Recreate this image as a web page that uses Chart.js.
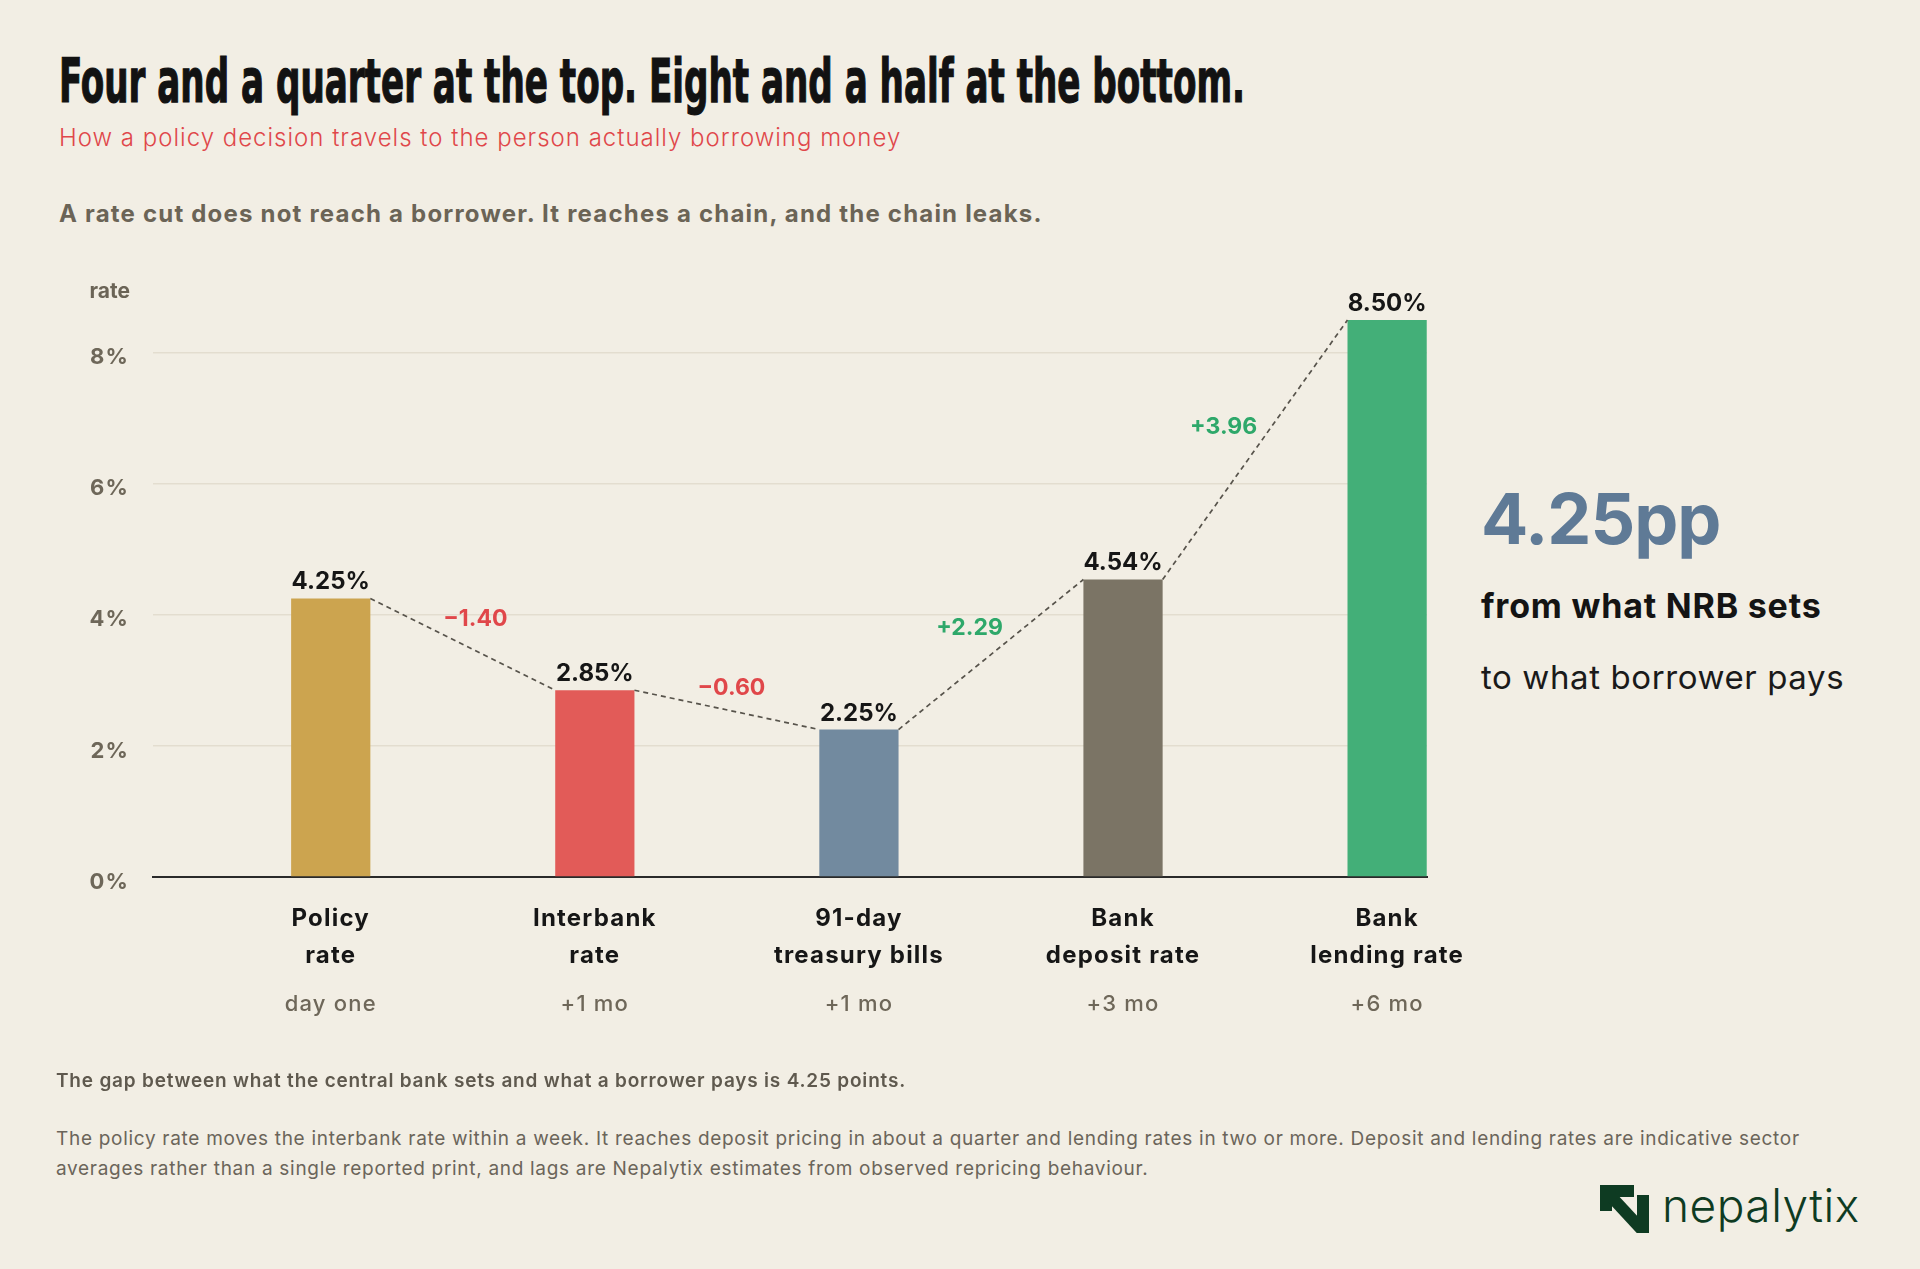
<!DOCTYPE html>
<html>
<head>
<meta charset="utf-8">
<title>Policy rate to lending rate</title>
<script src="https://cdn.jsdelivr.net/npm/chart.js@4.4.1/dist/chart.umd.min.js"></script>
<style>
  html, body { margin: 0; padding: 0; }
  body {
    width: 1920px; height: 1269px; position: relative; overflow: hidden;
    background: #f2eee4; font-family: Inter, "Noto Sans", sans-serif;
  }
  .abs { position: absolute; white-space: nowrap; line-height: 1; }
  #title {
    left: 59px; top: 51px; font-family: "Liberation Sans Narrow", "DejaVu Sans Condensed", sans-serif;
    font-weight: 700; font-size: 60px; color: #121212; transform-origin: 0 0;
    -webkit-text-stroke: 1.2px #121212;
  }
  #subtitle { left: 59px; top: 126px; font-size: 24px; font-weight: 300; color: #e0474a; letter-spacing: 1px; }
  #lede { left: 59px; top: 202px; font-size: 24px; font-weight: 700; color: #6b6456; letter-spacing: 1.2px; }
  #gap { left: 1481px; top: 484px; font-size: 70px; font-weight: 700; color: #5f7a96; letter-spacing: -1px; }
  #gapFrom { left: 1481px; top: 589px; font-size: 34px; font-weight: 700; color: #141414; letter-spacing: 0.8px; }
  #gapTo { left: 1481px; top: 661px; font-size: 33px; font-weight: 400; color: #1a1a1a; letter-spacing: 0.6px; }
  #note1 { left: 56px; top: 1071px; font-size: 19px; font-weight: 600; color: #5f594e; letter-spacing: 0.8px; }
  #note2 { left: 56px; top: 1124px; font-size: 19px; font-weight: 400; color: #6b655a; line-height: 30px; letter-spacing: 0.7px; }
  #logo { left: 1600px; top: 1182px; }
  #logo svg { position: absolute; left: 0; top: 3px; }
  #logo span { position: absolute; left: 62px; top: 0; font-size: 46px; font-weight: 300; color: #0e3b22; line-height: 1; letter-spacing: 0.5px; }
  #rateChart { position: absolute; left: 0; top: 250px; }
</style>
</head>
<body>
<div id="title" class="abs">Four and a quarter at the top. Eight and a half at the bottom.</div>
<div id="subtitle" class="abs">How a policy decision travels to the person actually borrowing money</div>
<div id="lede" class="abs">A rate cut does not reach a borrower. It reaches a chain, and the chain leaks.</div>

<canvas id="rateChart" width="1470" height="820"></canvas>

<div id="gap" class="abs"></div>
<div id="gapFrom" class="abs">from what NRB sets</div>
<div id="gapTo" class="abs">to what borrower pays</div>

<div id="note1" class="abs">The gap between what the central bank sets and what a borrower pays is 4.25 points.</div>
<div id="note2" class="abs">The policy rate moves the interbank rate within a week. It reaches deposit pricing in about a quarter and lending rates in two or more. Deposit and lending rates are indicative sector<br>averages rather than a single reported print, and lags are Nepalytix estimates from observed repricing behaviour.</div>

<div id="logo" class="abs">
  <svg width="50" height="48" viewBox="0 0 50 48">
    <defs><clipPath id="box"><rect x="0" y="0" width="50" height="48"/></clipPath></defs>
    <g fill="#0e3b22" clip-path="url(#box)">
      <path d="M0 0 H34 V12 H12 V26 H0 Z"/>
      <line x1="6" y1="6" x2="44" y2="47" stroke="#0e3b22" stroke-width="12"/>
      <rect x="37" y="10" width="12" height="38"/>
    </g>
  </svg>
  <span>nepalytix</span>
</div>

<script>
// chain stages, lag after a policy move, and the rate at each stage (%)
const stages = [
  ["Policy", "rate"],
  ["Interbank", "rate"],
  ["91-day", "treasury bills"],
  ["Bank", "deposit rate"],
  ["Bank", "lending rate"],
];
const lags = ["day one", "+1 mo", "+1 mo", "+3 mo", "+6 mo"];
const rates = [4.25, 2.85, 2.25, 4.54, 8.5];
const yTicks = [0, 2, 4, 6, 8];

const barColors = ["#cca44f", "#e25b58", "#728a9f", "#7b7465", "#43af78"];

// fit the condensed headline to its width
const title = document.getElementById("title");
title.style.transform = `scaleX(${1186 / title.getBoundingClientRect().width})`;

document.getElementById("gap").textContent =
  (rates[rates.length - 1] - rates[0]).toFixed(2) + "pp";

Chart.defaults.font.family = "Inter, 'Noto Sans', sans-serif";

// value labels, dashed chain and step deltas
const chainLabels = {
  id: "chainLabels",
  beforeDraw(chart) {
    chart.ctx.letterSpacing = "1.2px"; // axis labels are set a little loose
  },
  beforeDatasetsDraw(chart) {
    chart.ctx.letterSpacing = "0px";
  },
  afterDatasetsDraw(chart) {
    const { ctx } = chart;
    const bars = chart.getDatasetMeta(0).data;
    ctx.save();

    ctx.setLineDash([5, 4]);
    ctx.lineWidth = 1.7;
    ctx.strokeStyle = "#57534b";
    for (let i = 0; i < bars.length - 1; i++) {
      const a = bars[i], b = bars[i + 1];
      ctx.beginPath();
      ctx.moveTo(a.x + a.width / 2, a.y);
      ctx.lineTo(b.x - b.width / 2, b.y);
      ctx.stroke();
    }
    ctx.setLineDash([]);

    ctx.textAlign = "center";
    ctx.textBaseline = "alphabetic";
    ctx.fillStyle = "#161616";
    ctx.font = "700 24px Inter, 'Noto Sans', sans-serif";
    bars.forEach((bar, i) => {
      ctx.fillText(rates[i].toFixed(2) + "%", bar.x, bar.y - 9);
    });

    ctx.font = "700 23px Inter, 'Noto Sans', sans-serif";
    ctx.textBaseline = "middle";
    for (let i = 0; i < bars.length - 1; i++) {
      const a = bars[i], b = bars[i + 1];
      const x1 = a.x + a.width / 2, y1 = a.y;
      const x2 = b.x - b.width / 2, y2 = b.y;
      const d = rates[i + 1] - rates[i];
      const txt = (d < 0 ? "\u2212" : "+") + Math.abs(d).toFixed(2);
      const len = Math.hypot(x2 - x1, y2 - y1);
      const nx = (y2 - y1) / len, ny = -(x2 - x1) / len;
      const w = ctx.measureText(txt).width;
      const ext = Math.abs(nx) * w / 2 + Math.abs(ny) * 9 + 6;
      ctx.fillStyle = d < 0 ? "#e0474a" : "#2ea86a";
      ctx.fillText(txt, (x1 + x2) / 2 + nx * ext, (y1 + y2) / 2 + ny * ext);
    }
    ctx.restore();
  },
  afterDraw(chart) {
    const { ctx } = chart;
    ctx.save();
    ctx.font = "700 21px Inter, 'Noto Sans', sans-serif";
    ctx.fillStyle = "#6b6456";
    ctx.textAlign = "right";
    ctx.textBaseline = "alphabetic";
    ctx.fillText("rate", chart.scales.y.right - 23, 48);
    ctx.restore();
  },
};

const xRange = { min: -0.673, max: 4.151, offset: false };
const stageTicks = (s) => { s.ticks = stages.map((_, i) => ({ value: i })); };

new Chart(document.getElementById("rateChart"), {
  type: "bar",
  data: {
    datasets: [
      {
        label: "Rate",
        data: rates.map((v, i) => ({ x: i, y: v })),
        backgroundColor: barColors,
        borderWidth: 0,
        barPercentage: 0.3,
        categoryPercentage: 1,
      },
    ],
  },
  options: {
    responsive: false,
    animation: false,
    events: [],
    layout: { padding: { top: 35, right: 43, bottom: 43, left: 0 } },
    plugins: {
      legend: { display: false },
      tooltip: { enabled: false },
    },
    scales: {
      x: {
        type: "linear",
        position: "bottom",
        weight: 0,
        ...xRange,
        afterBuildTicks: stageTicks,
        afterFit: (s) => {
          s.height = 100;
          s.paddingRight = 0; // the last label may run past the plot edge
        },
        grid: { display: false, drawTicks: false, offset: false },
        border: { display: true, color: "#2a2a2a", width: 2 },
        ticks: {
          callback: (v) => stages[v],
          color: "#161616",
          font: { size: 24, weight: "700", lineHeight: 1.52 },
          padding: 24,
          maxRotation: 0,
          autoSkip: false,
        },
      },
      x2: {
        type: "linear",
        position: "bottom",
        weight: 1,
        ...xRange,
        afterBuildTicks: stageTicks,
        afterFit: (s) => {
          s.height = 50;
          s.paddingRight = 0;
        },
        grid: { display: false, drawTicks: false, offset: false },
        border: { display: false },
        ticks: {
          callback: (v) => lags[v],
          color: "#6e6759",
          font: { size: 22, weight: "500", lineHeight: 1.2 },
          padding: 14,
          maxRotation: 0,
          autoSkip: false,
        },
      },
      y: {
        min: 0,
        max: 9,
        afterBuildTicks: (s) => { s.ticks = yTicks.map((v) => ({ value: v })); },
        afterFit: (s) => { s.width = 153; },
        grid: { color: "#e3ddcf", lineWidth: 1.5, drawTicks: false },
        border: { display: false },
        ticks: {
          callback: (v) => v + "%",
          color: "#6e6759",
          font: { size: 22, weight: "700" },
          padding: 24,
          labelOffset: 5,
        },
      },
    },
  },
  plugins: [chainLabels],
});
</script>
</body>
</html>
